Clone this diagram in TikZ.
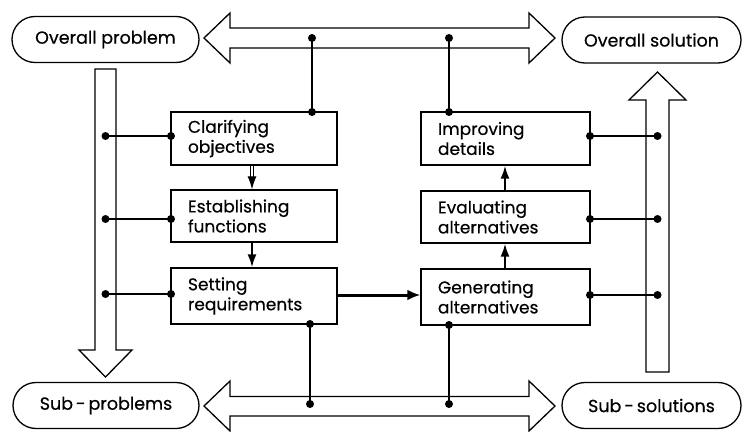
\documentclass[tikz,border=0pt]{standalone}
\usepackage{fontspec}
\setmainfont{Poppins}[FakeBold=0.5]
\usetikzlibrary{arrows.meta}
\begin{document}
\begin{tikzpicture}[x=1pt,y=-1pt,
  lw/.style={line width=1.3pt},
  pill/.style={draw,lw,rounded corners=23pt,minimum height=46pt,inner sep=0pt,font=\fontsize{17.5}{20}\selectfont},
  stage/.style={draw,lw,align=left,inner xsep=17pt,inner ysep=0pt,font=\fontsize{17}{20}\selectfont},
  link/.style={lw},
  flow/.style={line width=2pt,-{Latex[length=13pt,width=9pt]}},
  dot/.style={circle,fill=black,inner sep=0pt,minimum size=8pt}]
\useasboundingbox (0,0) rectangle (744,431);

% pills
\node[pill,minimum width=187pt] (op) at (105.5,39.5) {Overall problem};
\node[pill,minimum width=179pt] (os) at (651.5,40) {Overall solution};
\node[pill,minimum width=186pt] (sp) at (106,405.5) {Sub\,-\,problems};
\node[pill,minimum width=179pt] (ss) at (651.5,405.5) {Sub\,-\,solutions};

% big double arrows
\draw[lw] (204,38) -- (230,13) -- (230,28) -- (529,28) -- (529,13) -- (555,38)
  -- (529,63) -- (529,48) -- (230,48) -- (230,63) -- cycle;
\draw[lw] (204,406) -- (230,381) -- (230,396.5) -- (529,396.5) -- (529,381) -- (555,406)
  -- (529,431) -- (529,416) -- (230,416) -- (230,431) -- cycle;
% left down arrow
\draw[lw] (95,69) -- (116,69) -- (116,350) -- (132,350) -- (105.5,377) -- (79,350) -- (95,350) -- cycle;
% right up arrow
\draw[lw] (646,372) -- (669,372) -- (669,100) -- (686,100) -- (657.5,72) -- (629,100) -- (646,100) -- cycle;

% stage boxes
\node[stage,minimum width=166pt,minimum height=53pt,text width=132pt] (cl) at (254,138.5) {Clarifying\\objectives};
\node[stage,minimum width=166pt,minimum height=52pt,text width=132pt] (es) at (254,216) {Establishing\\functions};
\node[stage,minimum width=166pt,minimum height=56pt,text width=132pt] (se) at (254,296) {Setting\\requirements};
\node[stage,minimum width=169pt,minimum height=53pt,text width=135pt] (im) at (505.5,138.5) {Improving\\details};
\node[stage,minimum width=169pt,minimum height=52pt,text width=135pt] (ev) at (505.5,217) {Evaluating\\alternatives};
\node[stage,minimum width=169pt,minimum height=56pt,text width=135pt] (ge) at (505.5,297) {Generating\\alternatives};

% junction dots
\node[dot] (t1) at (312,38) {};
\node[dot] (t1b) at (312,112) {};
\node[dot] (t2) at (449,38) {};
\node[dot] (t2b) at (449,112) {};
\node[dot] (b1) at (310,404) {};
\node[dot] (b1b) at (310,324) {};
\node[dot] (b2) at (449,404) {};
\node[dot] (b2b) at (449,325) {};
\node[dot] (l1) at (105.5,136) {};
\node[dot] (l1b) at (171,136) {};
\node[dot] (l2) at (105.5,219) {};
\node[dot] (l2b) at (171,219) {};
\node[dot] (l3) at (105.5,294) {};
\node[dot] (l3b) at (171,294) {};
\node[dot] (r1) at (657.5,136) {};
\node[dot] (r1b) at (590,136) {};
\node[dot] (r2) at (657.5,219) {};
\node[dot] (r2b) at (590,219) {};
\node[dot] (r3) at (657.5,295) {};
\node[dot] (r3b) at (590,295) {};

% links
\draw[link] (t1.center) -- (t1b.center);
\draw[link] (t2.center) -- (t2b.center);
\draw[link] (b1.center) -- (b1b.center);
\draw[link] (b2.center) -- (b2b.center);
\draw[link] (l1.center) -- (l1b.center);
\draw[link] (l2.center) -- (l2b.center);
\draw[link] (l3.center) -- (l3b.center);
\draw[link] (r1.center) -- (r1b.center);
\draw[link] (r2.center) -- (r2b.center);
\draw[link] (r3.center) -- (r3b.center);

% flow arrows
\draw[line width=1.1pt,double distance=2pt,-{Latex[length=13pt,width=9pt]}] (cl.south -| 252,0) -- (es.north -| 252,0);
\draw[flow] (es.south -| 252,0) -- (se.north -| 252,0);
\draw[flow] (ge.north -| 505,0) -- (ev.south -| 505,0);
\draw[flow] (ev.north -| 505,0) -- (im.south -| 505,0);
\draw[line width=3pt,-{Latex[length=13pt,width=11pt]}] (se.east |- 0,295) -- (ge.west |- 0,295);
\end{tikzpicture}
\end{document}
